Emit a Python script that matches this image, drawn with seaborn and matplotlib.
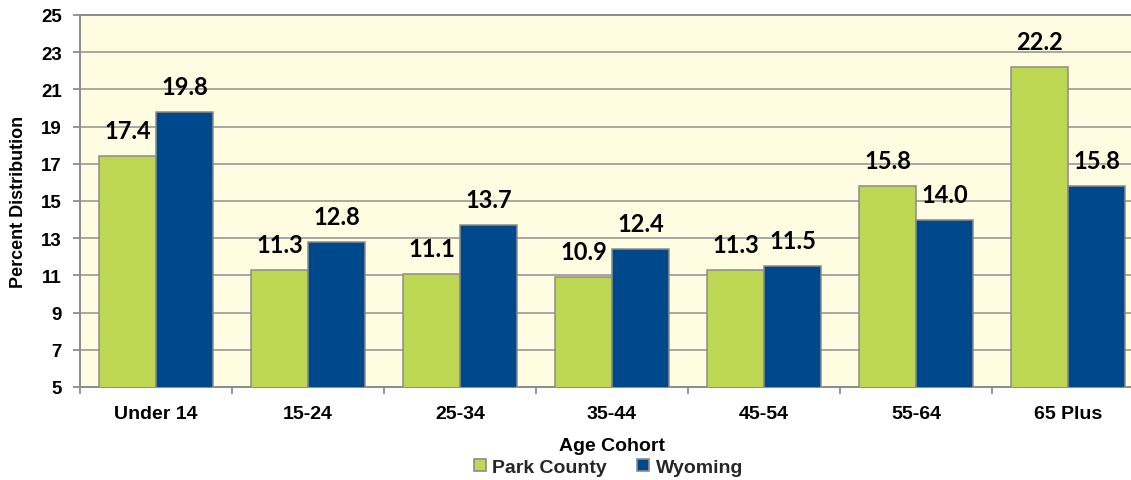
"""
Age cohort distribution: Park County vs Wyoming
"""

import pandas as pd
import seaborn as sns
import matplotlib.pyplot as plt
from matplotlib.lines import Line2D

cohorts = ['Under 14', '15-24', '25-34', '35-44', '45-54', '55-64', '65 Plus']
park_county = [17.4, 11.3, 11.1, 10.9, 11.3, 15.8, 22.2]
wyoming = [19.8, 12.8, 13.7, 12.4, 11.5, 14.0, 15.8]
series = ['Park County', 'Wyoming']
colors = ['#bdd752', '#00488c']
yticks = [5, 7, 9, 11, 13, 15, 17, 19, 21, 23, 25]


def main():
    df = pd.DataFrame({
        'Age Cohort': cohorts * 2,
        'Percent': park_county + wyoming,
        'Area': [series[0]] * len(cohorts) + [series[1]] * len(cohorts),
    })

    sns.set_theme(style='white')
    plt.rcParams['font.family'] = ['Liberation Sans', 'DejaVu Sans']
    plt.rcParams['font.weight'] = 'bold'

    fig = plt.figure(figsize=(11.31, 4.81), dpi=100)
    ax = fig.add_axes([80 / 1131, 93 / 481, 1064 / 1131, 372 / 481])
    ax.set_facecolor('#fffde1')

    sns.barplot(data=df, x='Age Cohort', y='Percent', hue='Area',
                palette=colors, saturation=1, width=0.75,
                edgecolor='#8c8c8c', linewidth=1.1, legend=False,
                ax=ax, zorder=3)

    # value labels above each bar
    for cont in ax.containers:
        ax.bar_label(cont, fmt='%.1f', padding=10, fontsize=17,
                     fontweight='bold', family=['Lato', 'DejaVu Sans'],
                     color='black')

    ax.set_xlim(-0.5, len(cohorts) - 0.5)
    ax.set_ylim(5, 25)
    ax.set_yticks(yticks)
    ax.grid(axis='y', color='#8f8f8f', linewidth=1.1, zorder=0)
    ax.set_axisbelow(True)

    for side in ['left', 'bottom', 'top']:
        ax.spines[side].set_color('#8c8c8c')
        ax.spines[side].set_linewidth(1.4)
    ax.spines['right'].set_visible(False)

    ax.set_xticks(range(len(cohorts)))
    ax.set_xticks([i - 0.5 for i in range(len(cohorts) + 1)], minor=True)
    ax.tick_params(axis='x', which='major', length=0, pad=13, labelsize=14)
    ax.tick_params(axis='x', which='minor', length=5, width=1.3,
                   color='#8c8c8c', direction='out', bottom=True)
    ax.tick_params(axis='y', length=5, width=1.3, color='#8c8c8c',
                   direction='out', left=True, pad=8, labelsize=13.5)
    for lbl in ax.get_xticklabels() + ax.get_yticklabels():
        lbl.set_fontweight('bold')
        lbl.set_color('black')

    ax.set_xlabel('Age Cohort', fontsize=14, fontweight='bold', labelpad=11,
                  color='black')
    ax.set_ylabel('Percent Distribution', fontsize=13, fontweight='bold',
                  labelpad=10, color='black')

    handles = [Line2D([], [], marker='s', linestyle='', markersize=9,
                      markerfacecolor=c, markeredgecolor='#8c8c8c',
                      markeredgewidth=1.2) for c in colors]
    fig.legend(handles, series, loc='center',
               bbox_to_anchor=(608 / 1131, 1 - 468 / 481), ncol=2,
               frameon=False, handlelength=0.7, handletextpad=0.3,
               columnspacing=1.5, borderpad=0,
               prop={'weight': 'bold', 'size': 14})

    fig.savefig('out.png', dpi=100)


if __name__ == '__main__':
    main()
